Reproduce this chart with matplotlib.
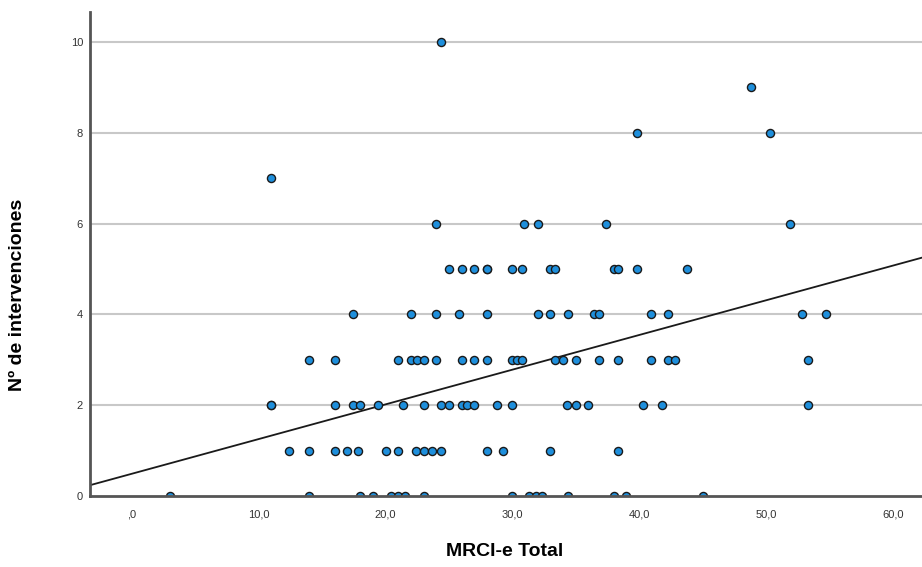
import matplotlib
matplotlib.use("Agg")
import matplotlib.pyplot as plt

plt.rcParams['font.family'] = ['Liberation Sans', 'DejaVu Sans']

# MRCI-e Total values, grouped by number of interventions
row0 = [3, 14, 18, 19, 20.4, 21, 21.5, 23, 30, 31.3, 31.9, 32.3, 34.4, 38, 39, 45]
row1 = [12.4, 14, 16, 17, 17.8, 20, 21, 22.4, 23, 23.7, 24.4, 28, 29.3, 33, 38.3]
row2 = [11, 11, 16, 17.4, 18, 19.4, 21.4, 23, 24.4, 25, 26, 26.4, 27, 28.8, 30,
        34.3, 35, 36, 40.3, 41.8, 53.3]
row3 = [14, 16, 21, 22, 22.5, 23, 24, 26, 27, 28, 30, 30.4, 30.8, 33.4, 34, 35,
        36.8, 38.3, 40.9, 42.3, 42.8, 53.3]
row4 = [17.4, 22, 24, 25.8, 28, 32, 33, 34.4, 36.4, 36.8, 40.9, 42.3, 52.8, 54.7]
row5 = [25, 26, 27, 28, 28, 30, 30.8, 33, 33.4, 38, 38.3, 39.8, 43.8]
row6 = [24, 30.9, 32, 37.4, 51.9]
row7 = [11]
row8 = [39.8, 50.3]
row9 = [48.8]
row10 = [24.4]
rows = [row0, row1, row2, row3, row4, row5, row6, row7, row8, row9, row10]

# fitted line shown on the chart
intercept = 0.49
slope = 0.0764

xticks = [0, 10, 20, 30, 40, 50, 60]
xtick_labels = [",0", "10,0", "20,0", "30,0", "40,0", "50,0", "60,0"]
yticks = [0, 2, 4, 6, 8, 10]

xs, ys = [], []
for n, vals in enumerate(rows):
    xs.extend(vals)
    ys.extend([n] * len(vals))

fig = plt.figure(figsize=(9.22, 5.67), dpi=100)
ax = fig.add_axes([90 / 922, 1 - 496 / 567, 832 / 922, 484 / 567])

x0, x1 = -3.3, 62.3
ax.set_xlim(x0, x1)
ax.set_ylim(0, 10.66)

# grid
for y in yticks[1:]:
    ax.axhline(y, color="#c8c8c8", lw=1.5, zorder=1)

ax.plot([x0, x1], [intercept + slope * x0, intercept + slope * x1],
        color="#1a1a1a", lw=1.3, zorder=2)

ax.scatter(xs, ys, s=34, facecolor="#1e8fdc", edgecolor="#1a1a1a",
           linewidths=1.0, zorder=3)

for side in ["top", "right"]:
    ax.spines[side].set_visible(False)
for side in ["left", "bottom"]:
    ax.spines[side].set_color("#555555")
    ax.spines[side].set_linewidth(2)
    ax.spines[side].set_zorder(4)

ax.set_xticks(xticks)
ax.set_xticklabels(xtick_labels)
ax.set_yticks(yticks)
ax.tick_params(length=0, labelsize=8, labelcolor="#333333")
ax.tick_params(axis="x", pad=10)
ax.tick_params(axis="y", pad=5)

fig.text(505 / 922, 1 - 551 / 567, "MRCI-e Total", ha="center", va="center",
         fontsize=14, fontweight="bold")
fig.text(18 / 922, 1 - 295 / 567, "Nº de intervenciones", ha="center",
         va="center", rotation=90, fontsize=14, fontweight="bold")

fig.savefig("out.png", dpi=100)
